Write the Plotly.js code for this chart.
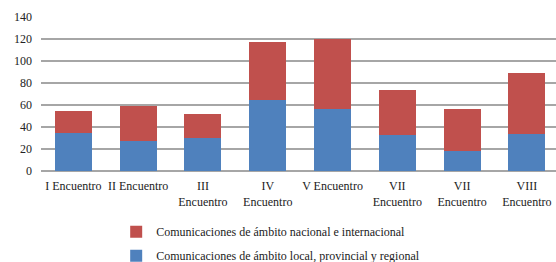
<!DOCTYPE html>
<html>
<head>
<meta charset="utf-8">
<script src="https://cdn.plot.ly/plotly-3.0.1.min.js"></script>
<style>html,body{margin:0;padding:0;background:#fff;}#chart{width:556px;height:262px;}</style>
</head>
<body>
<div id="chart"></div>
<script>
const categories = ["I Encuentro", "II Encuentro", "III<br>Encuentro", "IV<br>Encuentro", "V Encuentro", "VII<br>Encuentro", "VII<br>Encuentro", "VIII<br>Encuentro"];
const localValues = [35, 27, 30, 65, 56, 33, 18, 34];
const nationalValues = [20, 32, 22, 52, 64, 41, 38, 55];
const localName = "Comunicaciones de ámbito local, provincial y regional";
const nationalName = "Comunicaciones de ámbito nacional e internacional";
const yTicks = [0, 20, 40, 60, 80, 100, 120, 140];

const xIdx = categories.map((_, i) => i);
const font = {family: "Liberation Serif, Times New Roman, serif", size: 12, color: "#222"};

const traces = [
  {type: "bar", x: xIdx, y: localValues, name: localName, marker: {color: "#4f81bd"}, legend: "legend2", hoverinfo: "y"},
  {type: "bar", x: xIdx, y: nationalValues, name: nationalName, marker: {color: "#c0504d"}, legend: "legend", hoverinfo: "y"}
];

const layout = {
  width: 556, height: 262,
  margin: {l: 41, r: 0, t: 17, b: 91, autoexpand: false},
  barmode: "stack",
  bargap: 0.43,
  paper_bgcolor: "#fff", plot_bgcolor: "#fff",
  font: font,
  xaxis: {
    tickvals: xIdx, ticktext: categories, tickangle: 0, automargin: false,
    range: [-0.5, 7.45], showgrid: false, zeroline: false, showline: false,
    ticks: "", tickfont: font, ticklabelstandoff: 6, fixedrange: true
  },
  yaxis: {
    range: [0, 140], tickvals: yTicks, showgrid: true, gridcolor: "#a6a6a6", gridwidth: 1.3,
    zeroline: true, zerolinecolor: "#a6a6a6", zerolinewidth: 1.3, showline: false, automargin: false,
    ticks: "", tickfont: font, ticklabelstandoff: 8, fixedrange: true
  },
  legend: {x: 0.146, xanchor: "left", y: -0.394, yanchor: "middle", font: font, bgcolor: "rgba(0,0,0,0)"},
  legend2: {x: 0.146, xanchor: "left", y: -0.55, yanchor: "middle", font: font, bgcolor: "rgba(0,0,0,0)"},
  showlegend: true
};

Plotly.newPlot("chart", traces, layout, {staticPlot: true, displayModeBar: false});
</script>
</body>
</html>
